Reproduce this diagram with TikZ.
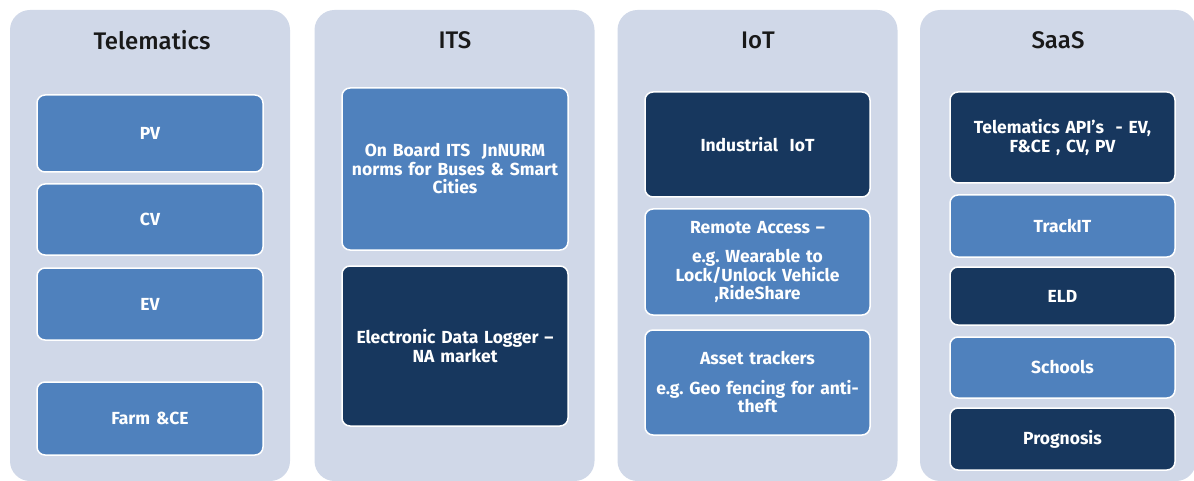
\documentclass[tikz,border=0pt]{standalone}
\usepackage{fontspec}
\setmainfont{Fira Sans}
\newfontfamily\titlefont{Fira Sans Medium}
\definecolor{panelgray}{HTML}{D0D8E8}
\definecolor{lightblue}{HTML}{4F81BD}
\definecolor{darkblue}{HTML}{17375E}
\begin{document}
\begin{tikzpicture}[x=1pt,y=-1pt,
    panel/.style={fill=panelgray, rounded corners=20pt, minimum width=280pt,
      minimum height=471pt, inner sep=0pt},
    title/.style={font=\titlefont\fontsize{24}{26}\selectfont, text=black!90},
    lbox/.style={fill=lightblue, draw=white, line width=1.5pt, rounded corners=8pt,
      minimum width=226pt, text width=218pt, align=center, text=white,
      font=\fontsize{17.5}{18.5}\selectfont\bfseries},
    dbox/.style={lbox, fill=darkblue}]
  \clip (0,0) rectangle (1194,481);
  \useasboundingbox (0,0) rectangle (1194,481);
  % panels
  \node[panel] (telematics) at (150,245.5) {};
  \node[panel] (its) at (454.5,245.5) {};
  \node[panel] (iot) at (757.5,245.5) {};
  \node[panel, minimum width=276pt] (saas) at (1058,245.5) {};
  % titles
  \node[title] (telematicsT) at (152,40) {Telematics};
  \node[title] (itsT) at (455,40) {ITS};
  \node[title] (iotT) at (758,40) {IoT};
  \node[title] (saasT) at (1058,40) {SaaS};
  % Telematics
  \node[lbox, minimum height=77pt] (pv) at (150,133.5) {PV};
  \node[lbox, minimum height=71pt] (cv) at (150,219.5) {CV};
  \node[lbox, minimum height=72pt] (ev) at (150,304) {EV};
  \node[lbox, minimum height=73pt] (farm) at (150,418.5) {Farm \&CE};
  % ITS
  \node[lbox, minimum height=162pt] (onboard) at (455,169)
    {On Board ITS\ \ JnNURM\\norms for Buses \& Smart\\Cities};
  \node[dbox, minimum height=160pt] (logger) at (455,346)
    {Electronic Data Logger --\\NA market};
  % IoT
  \node[dbox, minimum height=105pt, minimum width=225pt] (industrial) at (757.5,144.5)
    {Industrial\ \ IoT};
  \node[lbox, minimum height=106pt, minimum width=225pt] (remote) at (757.5,262)
    {Remote Access --\\[11pt]e.g.\ Wearable to\\Lock/Unlock Vehicle\\,RideShare};
  \node[lbox, minimum height=105pt, minimum width=225pt] (asset) at (757.5,382.5)
    {Asset trackers\\[11pt]e.g.\ Geo fencing for anti-\\theft};
  % SaaS
  \node[dbox, minimum height=91pt, minimum width=225pt] (api) at (1062.5,137.5)
    {Telematics API's\ \ - EV,\\F\&CE , CV, PV};
  \node[lbox, minimum height=62pt, minimum width=225pt] (trackit) at (1062.5,226) {TrackIT};
  \node[dbox, minimum height=58pt, minimum width=225pt] (eld) at (1062.5,296) {ELD};
  \node[lbox, minimum height=61pt, minimum width=225pt] (schools) at (1062.5,367.5) {Schools};
  \node[dbox, minimum height=62pt, minimum width=225pt] (prognosis) at (1062.5,439) {Prognosis};
\end{tikzpicture}
\end{document}
